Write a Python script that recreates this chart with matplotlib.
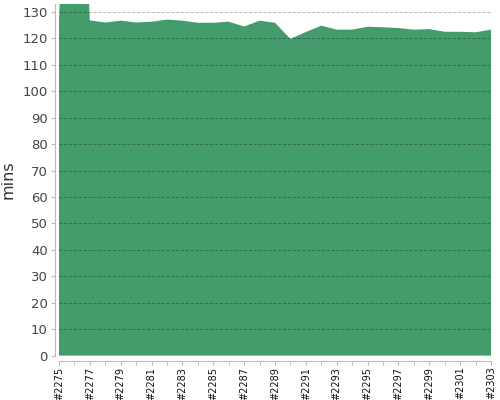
import matplotlib
matplotlib.use("Agg")
import matplotlib.pyplot as plt
import numpy as np

# build numbers on the x axis
builds = list(range(2275, 2304))
# build duration in minutes (2276 runs off the top of the chart)
mins = [127.1, 260.0, 126.8, 126.0, 126.7, 126.0, 126.3, 127.1, 126.7, 125.9,
        125.9, 126.3, 124.5, 126.7, 125.9, 119.8, 122.4, 124.8, 123.3, 123.3,
        124.4, 124.2, 123.9, 123.3, 123.5, 122.5, 122.5, 122.3, 123.3]
tick_labels = [f"#{b}" for b in builds[::2]]

fig = plt.figure(figsize=(5, 4), dpi=100)
ax = fig.add_axes([0.118, 0.111, 0.864, 0.879])

x = np.arange(len(builds))
ax.fill_between(x, mins, 0, color="#449b6b", linewidth=0, zorder=1)

ax.set_xlim(0, len(builds) - 1)
ax.set_ylim(0, 133)
ax.set_yticks(range(0, 131, 10))
ax.set_xticks(x, minor=True)
ax.set_xticks(x[::2], labels=tick_labels)

ax.grid(axis="y", color="black", alpha=0.3, linestyle=(0, (3, 2)), linewidth=0.7, zorder=2)
ax.set_axisbelow(False)

for s in ["top", "right"]:
    ax.spines[s].set_visible(False)
ax.spines["left"].set_position(("outward", 3))
ax.spines["bottom"].set_position(("outward", 4))
ax.spines["left"].set_color("#bbbbbb")
ax.spines["bottom"].set_color("#bbbbbb")

ax.tick_params(axis="y", length=3, color="#bbbbbb", labelsize=9.5, labelcolor="#444444", pad=2)
ax.tick_params(axis="x", which="both", length=3, color="#bbbbbb", pad=1)
ax.tick_params(axis="x", labelrotation=90, labelsize=7, labelcolor="#111111")

ax.set_ylabel("mins", fontsize=11.5, color="#333333", labelpad=5)

fig.savefig("out.png", dpi=100)
